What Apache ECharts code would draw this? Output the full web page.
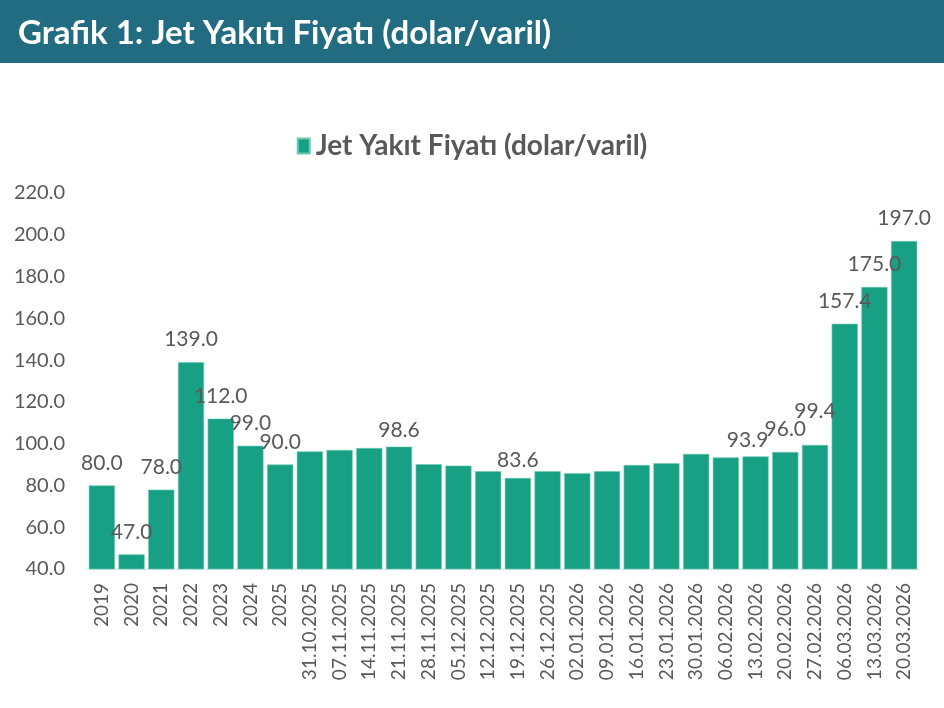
<!DOCTYPE html>
<html>
<head>
<meta charset="utf-8">
<script src="https://cdn.jsdelivr.net/npm/echarts@6/dist/echarts.min.js"></script>
<style>
html,body{margin:0;padding:0;background:#fff;}
#chart{width:944px;height:708px;}
</style>
</head>
<body>
<div id="chart"></div>
<script>
var titleText = 'Grafik 1: Jet Yakıtı Fiyatı (dolar/varil)';
var seriesName = 'Jet Yakıt Fiyatı (dolar/varil)';
var categories = ['2019','2020','2021','2022','2023','2024','2025',
  '31.10.2025','07.11.2025','14.11.2025','21.11.2025','28.11.2025',
  '05.12.2025','12.12.2025','19.12.2025','26.12.2025','02.01.2026',
  '09.01.2026','16.01.2026','23.01.2026','30.01.2026','06.02.2026',
  '13.02.2026','20.02.2026','27.02.2026','06.03.2026','13.03.2026','20.03.2026'];
var values = [80.0, 47.0, 78.0, 139.0, 112.0, 99.0, 90.0,
  96.3, 97.0, 97.9, 98.6, 90.2,
  89.5, 86.8, 83.6, 86.8, 85.9,
  86.8, 89.8, 90.6, 95.1, 93.4,
  93.9, 96.0, 99.4, 157.4, 175.0, 197.0];
var labelledIdx = [0,1,2,3,4,5,6,10,14,22,23,24,25,26,27];
var labelOffsets = {10:[0,6], 14:[0,5], 22:[-8,6], 24:[0,-11]};
var yMin = 40, yMax = 220, yStep = 20;

var barColor = '#18a085';
var textColor = '#595959';

var data = values.map(function(v, i){
  var show = labelledIdx.indexOf(i) >= 0;
  var item = {value: v, label: {show: show}};
  if (labelOffsets[i]) item.label.offset = labelOffsets[i];
  return item;
});

var chart = echarts.init(document.getElementById('chart'));
chart.setOption({
  animation: false,
  backgroundColor: '#fff',
  graphic: [
    {type:'rect', left:0, top:0, shape:{width:944, height:63}, style:{fill:'#216c80'}, z:0},
    {type:'text', x:18, y:33, style:{text:titleText, fill:'#fff', font:'bold 33px Lato', verticalAlign:'middle'}, z:1}
  ],
  legend: {
    data: [seriesName],
    left: 'center',
    top: 127,
    itemWidth: 12,
    itemHeight: 15,
    itemGap: 10,
    icon: 'rect',
    textStyle: {color: textColor, fontFamily: 'Lato', fontWeight: 'bold', fontSize: 28, padding:[0,0,0,1]}
  },
  grid: {left: 87, right: 25, top: 193, bottom: 139, containLabel: false},
  xAxis: {
    type: 'category',
    data: categories,
    axisLine: {show: true, lineStyle: {color: '#cfe9e2', width: 1}},
    axisTick: {show: false},
    axisLabel: {rotate: 90, color: textColor, fontFamily: 'Lato', fontSize: 19, margin: 14, interval: 0}
  },
  yAxis: {
    type: 'value',
    min: yMin, max: yMax, interval: yStep,
    axisLine: {show: false},
    axisTick: {show: false},
    splitLine: {show: false},
    axisLabel: {color: textColor, fontFamily: 'Lato', fontSize: 20, margin: 22,
      formatter: function(v){ return v.toFixed(1); }}
  },
  series: [{
    name: seriesName,
    type: 'bar',
    data: data,
    barCategoryGap: '12%',
    itemStyle: {color: barColor, borderColor: '#6cc9b6', borderWidth: 0.6},
    label: {
      position: 'top', distance: 12, color: textColor,
      fontFamily: 'Lato', fontSize: 21,
      formatter: function(p){ return p.value.toFixed(1); }
    }
  }]
});
</script>
</body>
</html>
